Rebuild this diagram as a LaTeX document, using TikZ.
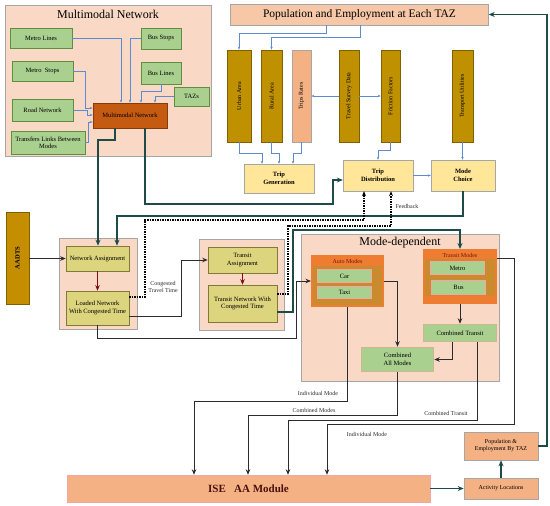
\documentclass[tikz,border=0pt]{standalone}
\usepackage{graphicx}
\usepackage{fontspec}
\setmainfont{Liberation Serif}
\usetikzlibrary{positioning, calc, arrows.meta}

\definecolor{grouppeach}{HTML}{F9D9C6}
\definecolor{groupline}{HTML}{A6A6A6}
\definecolor{greenfill}{HTML}{A9D08E}
\definecolor{greenline}{HTML}{5E8F3E}
\definecolor{netorange}{HTML}{C55A11}
\definecolor{netline}{HTML}{843C0C}
\definecolor{goldfill}{HTML}{BF9000}
\definecolor{goldline}{HTML}{7F6000}
\definecolor{ratepeach}{HTML}{F4B183}
\definecolor{tripyellow}{HTML}{FFE699}
\definecolor{olivefill}{HTML}{DDD47E}
\definecolor{oliveline}{HTML}{7F7A3A}
\definecolor{modeorange}{HTML}{EE7D31}
\definecolor{modegold}{HTML}{C98B2E}
\definecolor{pinkline}{HTML}{F4A6A6}
\definecolor{khakiline}{HTML}{C9B98E}
\definecolor{feedblue}{HTML}{5B8CD1}
\definecolor{darkteal}{HTML}{1E4B47}
\definecolor{darkline}{HTML}{2B2B2B}
\definecolor{darkred}{HTML}{7B1010}
\definecolor{isebrown}{HTML}{4A1010}

\begin{document}
\begin{tikzpicture}[x=1pt, y=-1pt,
    txt/.style={font=\fontsize{6.5}{7.5}\selectfont, align=center, inner sep=1pt},
    greenbox/.style={txt, draw=greenline, fill=greenfill, line width=0.6pt},
    goldbar/.style={draw=goldline, fill=goldfill, line width=0.6pt, minimum height=92pt, font=\fontsize{6}{7}\selectfont, inner sep=0pt},
    tripbox/.style={txt, draw=groupline, fill=tripyellow, font=\fontsize{6.5}{7.5}\selectfont\bfseries},
    olivebox/.style={txt, draw=oliveline, fill=olivefill, line width=0.6pt},
    peachbox/.style={txt, draw=groupline, fill=ratepeach, line width=0.6pt},
    group/.style={draw=groupline, fill=grouppeach, line width=0.8pt},
    heading/.style={font=\fontsize{12}{14}\selectfont, inner sep=0pt},
    inarrow/.style={draw=feedblue, line width=0.5pt, -{Stealth[length=3pt,width=2.4pt]}},
    mainarrow/.style={draw=darkteal, line width=1.3pt, -{Stealth[length=6pt,width=5pt]}},
    modearrow/.style={draw=darkline, line width=0.9pt, -{Stealth[length=5.5pt,width=4.5pt]}},
    feedback/.style={draw=black, line width=1.1pt, dash pattern=on 1.5pt off 1pt, -{Stealth[length=5pt,width=4pt]}},
    note/.style={font=\fontsize{6}{7}\selectfont, text=darkline, inner sep=0pt, align=center},
]
    \useasboundingbox (0,0) rectangle (550,506);

    % Multimodal network group
    \node[group, minimum width=206pt, minimum height=151pt] (mmgroup) at (108,80.5) {};
    \node[heading] (mmtitle) at (108,14) {Multimodal Network};
    \node[greenbox, minimum width=62pt, minimum height=20pt] (mlines) at (41,38) {Metro Lines};
    \node[greenbox, minimum width=40pt, minimum height=21pt] (bstops) at (161,38.5) {Bus Stops};
    \node[greenbox, minimum width=61pt, minimum height=20pt] (mstops) at (42.5,71.5) {Metro\ \ Stops};
    \node[greenbox, minimum width=40pt, minimum height=22pt] (blines) at (161,73) {Bus Lines};
    \node[greenbox, minimum width=61pt, minimum height=22pt] (road) at (42.5,110) {Road Network};
    \node[greenbox, minimum width=35pt, minimum height=19pt] (tazs) at (191.5,96.5) {TAZs};
    \node[greenbox, minimum width=74pt, minimum height=23pt] (transfers) at (48,142.5) {Transfers Links Between\\Modes};
    \node[txt, draw=netline, fill=netorange, line width=0.6pt, minimum width=74pt, minimum height=25pt] (mmnet) at (130,115.5) {Multimodal Network};

    \draw[inarrow] (mlines.east) -| (mmnet.north -| 121,0);
    \draw[inarrow] (bstops.west) -| (mmnet.north -| 130,0);
    \draw[inarrow] (blines.south) |- (141,91) -- (mmnet.north -| 141,0);
    \draw[inarrow] (tazs.west) -| (mmnet.north -| 155,0);
    \draw[inarrow] (mstops.east) -| (85,108) -- (mmnet.west |- 0,108);
    \draw[inarrow] (road.east) -| (87,115) -- (mmnet.west |- 0,115);
    \draw[inarrow] (transfers.east) -| (88,122) -- (mmnet.west |- 0,122);

    % Population and trip model inputs
    \node[txt, draw=groupline, fill=ratepeach!70, font=\fontsize{11.5}{13}\selectfont, minimum width=258pt, minimum height=21pt] (pop) at (359.5,14.5) {Population and Employment at Each TAZ};
    \node[goldbar, minimum width=24pt] (urban) at (239,96) {\rotatebox{90}{Urban Area}};
    \node[goldbar, minimum width=21pt] (rural) at (271.5,96) {\rotatebox{90}{Rural Area}};
    \node[goldbar, fill=ratepeach, draw=groupline, minimum width=19pt] (rates) at (301.5,96) {\rotatebox{90}{Trips Rates}};
    \node[goldbar, minimum width=20pt] (survey) at (349,96) {\rotatebox{90}{Travel Survey Data}};
    \node[goldbar, minimum width=19pt] (friction) at (390.5,96) {\rotatebox{90}{Friction Factors}};
    \node[goldbar, minimum width=21pt] (utilities) at (462.5,96) {\rotatebox{90}{Transport Utilities}};

    \node[tripbox, minimum width=70pt, minimum height=29pt] (tripgen) at (279,178.5) {Trip\\Generation};
    \node[tripbox, minimum width=70pt, minimum height=31pt] (tripdist) at (378,175.5) {Trip\\Distribution};
    \node[tripbox, minimum width=64pt, minimum height=31pt] (modechoice) at (463,175.5) {Mode\\Choice};

    \draw[inarrow] (pop.south -| 326,0) |- (239,33) -- (urban.north);
    \draw[inarrow] (pop.south -| 360,0) |- (271.5,37) -- (rural.north);
    \draw[inarrow] (survey.west) -- (rates.east);
    \draw[inarrow] (survey.east) -- (friction.west);
    \draw[inarrow] (urban.south) |- (262,153) -- (tripgen.north -| 262,0);
    \draw[inarrow] (rural.south) |- (279,153) -- (tripgen.north -| 279,0);
    \draw[inarrow] (rates.south) |- (293,153) -- (tripgen.north -| 293,0);
    \draw[inarrow] (friction.south) |- (378,150) -- (tripdist.north);
    \draw[inarrow] (utilities.south) -- (modechoice.north -| utilities.south);
    \draw[inarrow] (tripdist.east) -- (modechoice.west);

    % Assignment groups
    \node[goldbar, minimum width=23pt, fill=goldfill!90!orange] (aadts) at (17.5,258) {\rotatebox{90}{\fontsize{6.5}{7.5}\selectfont\bfseries AADTS}};
    \node[group, minimum width=78pt, minimum height=91pt] (assigngroup) at (98,283.5) {};
    \node[olivebox, minimum width=63pt, minimum height=25pt] (netassign) at (97.5,258.5) {Network Assignment};
    \node[olivebox, minimum width=63pt, minimum height=34pt] (loaded) at (97.5,308) {Loaded Network\\With Congested Time};
    \node[group, minimum width=85pt, minimum height=91pt] (transitgroup) at (241.5,284.5) {};
    \node[olivebox, minimum width=69pt, minimum height=26pt] (trassign) at (242.5,260) {Transit\\Assignment};
    \node[olivebox, minimum width=69pt, minimum height=37pt] (trnet) at (242.5,303.5) {Transit Network With\\Congested Time};
    \node[note] (congested) at (163,287) {Congested\\Travel Time};

    \draw[modearrow, draw=darkred] (netassign) -- (loaded);
    \draw[modearrow, draw=darkred] (trassign) -- (trnet);
    \draw[modearrow] (aadts.east |- netassign.west) -- (netassign.west);

    % Mode-dependent group
    \node[group, minimum width=198pt, minimum height=147pt] (modegroup) at (400,307.5) {};
    \node[heading] (modetitle) at (400,242.5) {Mode-dependent};
    \node[draw=modeorange, fill=modegold, line width=2pt, minimum width=71pt, minimum height=50pt] (automodes) at (347.5,281) {};
    \fill[modeorange] (automodes.north west) rectangle ($(automodes.north east)+(0,11)$);
    \node[note, text=darkred] (autotitle) at (347.5,261.5) {Auto Modes};
    \node[greenbox, draw=pinkline, line width=1.5pt, minimum width=54pt, minimum height=13pt] (car) at (344.5,276) {Car};
    \node[greenbox, draw=pinkline, line width=1.5pt, minimum width=54pt, minimum height=12pt] (taxi) at (344.5,292.5) {Taxi};
    \node[draw=modeorange, fill=modegold, line width=2pt, minimum width=72pt, minimum height=53pt] (transitmodes) at (460,276.5) {};
    \fill[modeorange] (transitmodes.north west) rectangle ($(transitmodes.north east)+(0,10)$);
    \fill[modeorange] (transitmodes.south west) rectangle ($(transitmodes.south east)+(0,-8)$);
    \node[note, text=darkred] (transittitle) at (460,255) {Transit Modes};
    \node[greenbox, draw=pinkline, line width=1.5pt, minimum width=54pt, minimum height=13pt] (metro) at (457.5,268) {Metro};
    \node[greenbox, draw=pinkline, line width=1.5pt, minimum width=54pt, minimum height=14pt] (bus) at (458.5,287.5) {Bus};
    \node[greenbox, draw=khakiline, line width=1.5pt, minimum width=73pt, minimum height=17pt] (combtransit) at (460,333) {Combined Transit};
    \node[greenbox, draw=khakiline, line width=1.5pt, minimum width=72pt, minimum height=24pt] (comball) at (397.5,359.5) {Combined\\All Modes};

    \draw[modearrow] (transitmodes) -- (combtransit);
    \draw[modearrow] (combtransit.south -| 452,0) |- (comball.east);
    \draw[modearrow] (automodes.east) -| (comball.north);

    % Main flow lines
    \draw[mainarrow] (mmnet.south -| 115,0) |- (98,140) -- (netassign.north -| 98,0);
    \draw[mainarrow] (modechoice.south) |- (117,216) -- (netassign.north -| 117,0);
    \draw[mainarrow] (mmnet.south -| 145,0) |- (333,204) |- (tripdist.west |- 0,180);
    \draw[modearrow] (loaded.east |- 0,316) -| (181,260) -- (trassign.west);
    \draw[modearrow] (loaded.south) |- (296,338) |- (automodes.west);
    \draw[mainarrow] (trnet.east |- 0,312) -| (293,230) -| (transitmodes.north);

    % Feedback of congested times
    \draw[feedback] (loaded.east |- 0,297) -| (145,220) -| (tripdist.south -| 364,0);
    \draw[feedback] (trnet.east |- 0,294) -| (288,226) -| (tripdist.south -| 391,0);
    \node[note] (feedlabel) at (407,206) {Feedback};

    % ISE AA module
    \node[txt, draw=pinkline, fill=ratepeach, minimum width=363pt, minimum height=27pt, font=\fontsize{11}{13}\selectfont\bfseries, text=isebrown] (ise) at (248.5,488.5) {ISE\ \ \ AA Module};
    \node[peachbox, minimum width=74pt, minimum height=21pt, font=\fontsize{6}{7}\selectfont] (activity) at (501,488.5) {Activity Locations};
    \node[peachbox, minimum width=74pt, minimum height=28pt, font=\fontsize{6}{7}\selectfont] (poptaz) at (501,446) {Population \&\\Employment By TAZ};

    \draw[modearrow] (automodes.south) |- (194,401) -- (ise.north -| 194,0);
    \draw[modearrow] (comball.south) |- (248,415) -- (ise.north -| 248,0);
    \draw[modearrow] (combtransit.south -| 477,0) |- (288,420) -- (ise.north -| 288,0);
    \draw[modearrow] (transitmodes.east |- 0,258) -| (514,424) -| (ise.north -| 327,0);
    \node[note] (indlabel) at (318,393) {Individual Mode};
    \node[note] (comblabel) at (314,410) {Combined Modes};
    \node[note] (translabel) at (446,413) {Combined Transit};
    \node[note] (indlabeltwo) at (367,434) {Individual Mode};

    \draw[mainarrow] (ise.east) -- (activity.west);
    \draw[mainarrow] (activity) -- (poptaz);
    \draw[mainarrow] (poptaz.east) -| (547,14.5) -- (pop.east);
\end{tikzpicture}
\end{document}
